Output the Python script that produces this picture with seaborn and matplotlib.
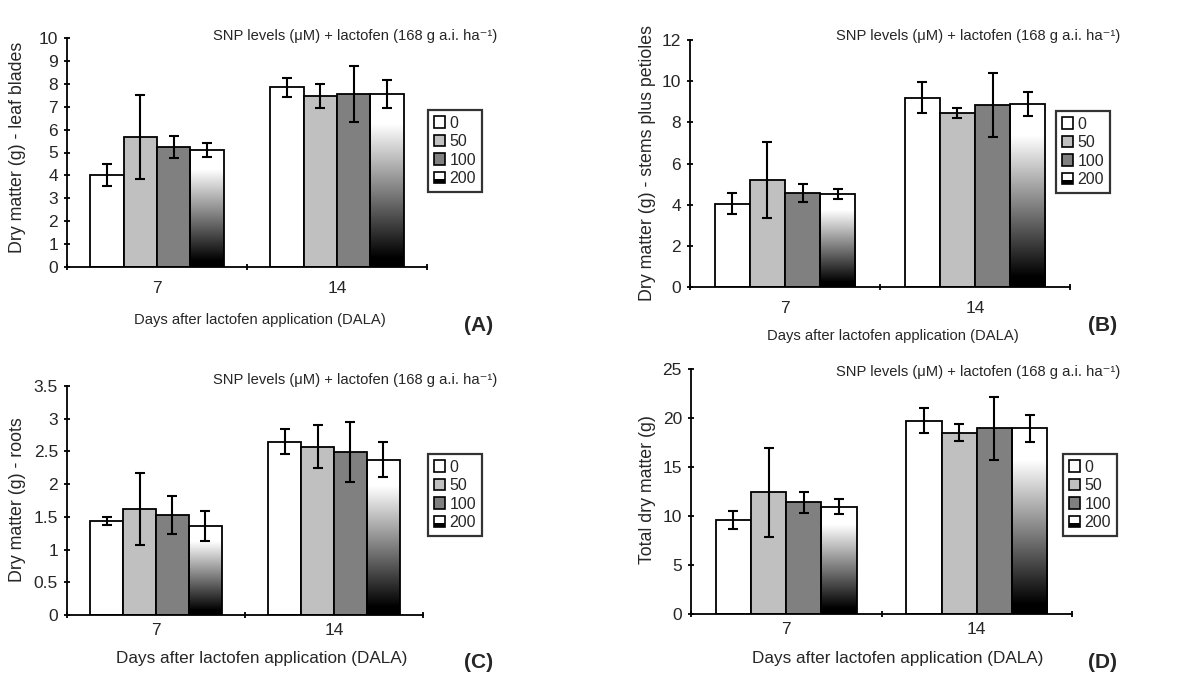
import numpy as np
import pandas as pd
import seaborn as sns
import matplotlib.pyplot as plt
from matplotlib.patches import Rectangle
from matplotlib.legend_handler import HandlerBase

# data (means and half-width of error bars)
days = ['7', '14']
snp_levels = ['0', '50', '100', '200']

leaf_mean = [[4.02, 5.68, 5.22, 5.12], [7.84, 7.45, 7.55, 7.55]]
leaf_err = [[0.48, 1.84, 0.48, 0.30], [0.43, 0.52, 1.22, 0.61]]

stem_mean = [[4.04, 5.18, 4.58, 4.51], [9.20, 8.46, 8.83, 8.88]]
stem_err = [[0.51, 1.85, 0.44, 0.25], [0.75, 0.24, 1.55, 0.59]]

root_mean = [[1.44, 1.615, 1.533, 1.36], [2.65, 2.57, 2.496, 2.374]]
root_err = [[0.06, 0.55, 0.29, 0.235], [0.19, 0.33, 0.46, 0.27]]

total_mean = [[9.57, 12.42, 11.40, 10.96], [19.71, 18.52, 18.96, 18.96]]
total_err = [[0.90, 4.55, 1.10, 0.78], [1.26, 0.83, 3.20, 1.37]]

ylabels = ['Dry matter (g) - leaf blades',
           'Dry matter (g) - stems plus petioles',
           'Dry matter (g) - roots',
           'Total dry matter (g)']
ylims = [(10, 1), (12, 2), (3.5, 0.5), (25, 5)]
panel_tags = ['(A)', '(B)', '(C)', '(D)']

sns.set_theme(style='ticks')
plt.rcParams['font.family'] = ['Liberation Sans', 'DejaVu Sans']

palette = {'0': '#ffffff', '50': '#c0c0c0', '100': '#808080', '200': '#ffffff'}

# white top -> black bottom fill used for the 200 bars
grad = np.linspace(1, 0, 256)
grad = np.clip((grad - 0.05) / 0.78, 0, 1)
grad_img = grad.reshape(-1, 1)


class GradHandler(HandlerBase):
    def create_artists(self, legend, orig, xd, yd, w, h, fs, trans):
        s = min(w, h)
        x0 = xd + (w - s) / 2
        y0 = yd + (h - s) / 2
        top = Rectangle((x0, y0 + s * 0.35), s, s * 0.65, fc='white', ec='none', transform=trans)
        bot = Rectangle((x0, y0), s, s * 0.35, fc='black', ec='none', transform=trans)
        box = Rectangle((x0, y0), s, s, fc='none', ec='black', lw=1.2, transform=trans)
        return [top, bot, box]


class SquareHandler(HandlerBase):
    def create_artists(self, legend, orig, xd, yd, w, h, fs, trans):
        s = min(w, h)
        r = Rectangle((xd + (w - s) / 2, yd + (h - s) / 2), s, s,
                      fc=orig.get_facecolor(), ec='black', lw=1.2, transform=trans)
        return [r]


fig = plt.figure(figsize=(11.9, 6.74), dpi=100)
W, H = 1190, 674

# axes boxes in pixels: left, top, right, bottom
boxes = [(67, 38, 427, 267), (690, 40, 1070, 287),
         (67, 386, 423, 615), (691, 369, 1072, 614)]
title_pos = [(497, 36), (1120, 36), (497, 380), (1120, 372)]
tag_pos = [(493, 325), (1117, 325), (493, 662), (1117, 662)]
xlab_pos = [(260, 320), (893, 336), (262, 659), (898, 659)]
ylab_pos = [(18, 147), (647, 163), (18, 500), (647, 490)]
leg_pos = [(428, 110), (1056, 111), (428, 454), (1063, 454)]

means = [leaf_mean, stem_mean, root_mean, total_mean]
errs = [leaf_err, stem_err, root_err, total_err]

for k in range(4):
    l, t, r, b = boxes[k]
    ax = fig.add_axes([l / W, 1 - b / H, (r - l) / W, (b - t) / H])

    df = pd.DataFrame({
        'Day': np.repeat(days, len(snp_levels)),
        'SNP': snp_levels * len(days),
        'Mass': np.array(means[k]).ravel(),
        'Err': np.array(errs[k]).ravel(),
    })
    sns.barplot(data=df, x='Day', y='Mass', hue='SNP', order=days, hue_order=snp_levels,
                palette=palette, width=0.74, errorbar=None, edgecolor='black',
                linewidth=1.3, saturation=1, legend=False, ax=ax)

    ymax, ystep = ylims[k]
    bar_conts = list(ax.containers)

    for i, cont in enumerate(bar_conts):
        lvl = snp_levels[i]
        sub = df[df['SNP'] == lvl]
        xs = [p.get_x() + p.get_width() / 2 for p in cont.patches]
        ys = [p.get_height() for p in cont.patches]
        ax.errorbar(xs, ys, yerr=sub['Err'].values, fmt='none', ecolor='black',
                    elinewidth=1.5, capsize=3.5, capthick=1.5, zorder=5)
        if lvl == '200':
            for p in cont.patches:
                x0, w, h = p.get_x(), p.get_width(), p.get_height()
                im = ax.imshow(grad_img, cmap='gray', vmin=0, vmax=1, aspect='auto',
                               extent=(x0, x0 + w, 0, h), zorder=p.get_zorder() - 0.1,
                               interpolation='bilinear')
                im.set_clip_path(p)
                p.set_facecolor('none')
                p.set_zorder(p.get_zorder() + 0.2)

    ax.set_xlim(-0.5, 1.5)
    ax.set_ylim(0, ymax)
    ax.set_yticks(np.arange(0, ymax + ystep / 2, ystep))
    ax.set_yticklabels([f'{v:g}' for v in np.arange(0, ymax + ystep / 2, ystep)])
    ax.set_xticks([0, 1])
    ax.set_xticklabels(days)
    ax.set_xticks([-0.5, 0.5, 1.5], minor=True)
    ax.tick_params(axis='x', which='major', length=0, labelsize=12.5, pad=10 if k < 2 else 6)
    ax.tick_params(axis='x', which='minor', length=5, width=1.3, direction='inout', color='black')
    ax.tick_params(axis='y', length=5, width=1.3, direction='inout', labelsize=12.5,
                   color='black', pad=4)
    for sp in ['top', 'right']:
        ax.spines[sp].set_visible(False)
    for sp in ['left', 'bottom']:
        ax.spines[sp].set_color('black')
        ax.spines[sp].set_linewidth(1.3)
    ax.set_xlabel('')
    ax.set_ylabel('')

    tx, ty = title_pos[k]
    fig.text(tx / W, 1 - ty / H, 'SNP levels (\u03bcM) + lactofen (168 g a.i. ha\u207b\u00b9)',
             ha='right', va='center', fontsize=10.6)
    px, py = tag_pos[k]
    fig.text(px / W, 1 - py / H, panel_tags[k], ha='right', va='center',
             fontsize=15, fontweight='bold')
    xx, xy = xlab_pos[k]
    fig.text(xx / W, 1 - xy / H, 'Days after lactofen application (DALA)',
             ha='center', va='center', fontsize=10.6 if k < 2 else 12.3)
    yx, yy = ylab_pos[k]
    fig.text(yx / W, 1 - yy / H, ylabels[k], ha='center', va='center',
             rotation=90, fontsize=12.8)

    handles = [Rectangle((0, 0), 1, 1, fc=palette[s]) for s in snp_levels]
    hmap = {h: SquareHandler() for h in handles[:3]}
    hmap[handles[3]] = GradHandler()
    lx, ly = leg_pos[k]
    leg = fig.legend(handles, snp_levels, handler_map=hmap, loc='upper left',
                     bbox_to_anchor=(lx / W, 1 - ly / H), fontsize=11.5,
                     frameon=True, fancybox=False, borderpad=0.35,
                     handlelength=0.7, handleheight=0.7, handletextpad=0.3,
                     labelspacing=0.22, borderaxespad=0)
    leg.get_frame().set_edgecolor('black')
    leg.get_frame().set_linewidth(1.6)

fig.savefig('out.png', dpi=100)
